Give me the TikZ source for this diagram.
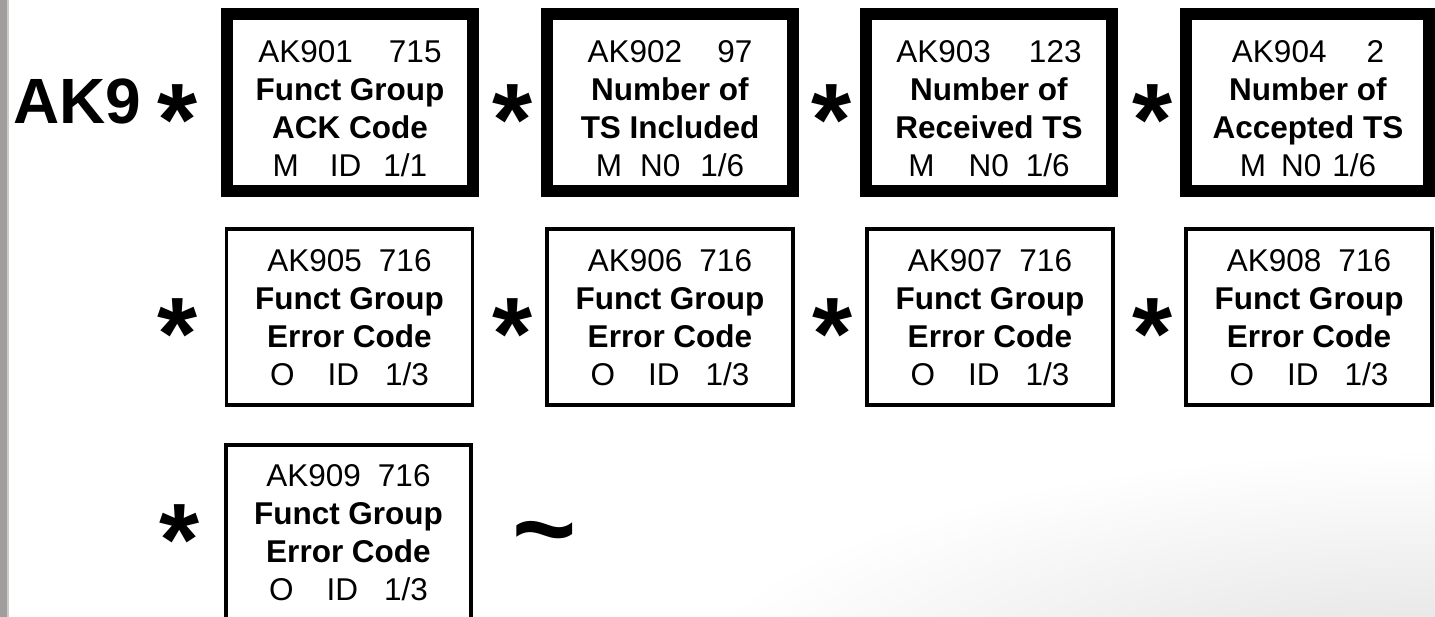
\documentclass[tikz,border=0pt]{standalone}
\usepackage{fontspec}
\setmainfont{Liberation Sans}
\definecolor{stripgray}{RGB}{160,158,156}
\begin{document}
\begin{tikzpicture}[x=1pt,y=-1pt,
  bigbox/.style={draw=black, line width=12pt, rectangle, inner sep=0pt, minimum width=246pt, minimum height=177pt},
  smallbox/.style={draw=black, line width=3.5pt, rectangle, inner sep=0pt, minimum width=246pt, minimum height=176pt},
  boxtext/.style={align=center, anchor=north, inner sep=0pt, font=\fontsize{31.5}{38}\selectfont},
  starmark/.style={anchor=base, inner sep=0pt, font=\fontsize{103}{103}\selectfont\bfseries},
  tildemark/.style={anchor=base, inner sep=0pt, font=\fontsize{110}{110}\selectfont\bfseries},
  segname/.style={anchor=base west, inner sep=0pt, font=\fontsize{64}{64}\selectfont\bfseries}]
\useasboundingbox (0,0) rectangle (1435,617);
\clip (0,0) rectangle (1435,617);
\fill[white] (0,0) rectangle (1435,617);
\shade[inner color=black!13, outer color=white] (1435,700) ellipse [x radius=760pt, y radius=250pt];
\fill[stripgray] (0,0) rectangle (7,617);
\fill[black!20] (7,0) rectangle (8.5,617);

% segment id
\node[segname] (ak9) at (13,124) {AK9};

% row 1
\node[starmark] (s1) at (178,156) {*};
\node[bigbox] (b1) at (350,102.5) {};
\node[boxtext] (t1) at (350,40) {AK901\hspace{36pt}715\\\textbf{Funct Group}\\\textbf{ACK Code}\\M\hspace{31pt}ID\hspace{22pt}1/1};
\node[starmark] (s2) at (513,156) {*};
\node[bigbox] (b2) at (670,102.5) {};
\node[boxtext] (t2) at (670,40) {AK902\hspace{35pt}97\\\textbf{Number of}\\\textbf{TS Included}\\M\hspace{18pt}N0\hspace{20pt}1/6};
\node[starmark] (s3) at (832,156) {*};
\node[bigbox] (b3) at (989,102.5) {};
\node[boxtext] (t3) at (989,40) {AK903\hspace{38pt}123\\\textbf{Number of}\\\textbf{Received TS}\\M\hspace{34pt}N0\hspace{17pt}1/6};
\node[starmark] (s4) at (1153,156) {*};
\node[bigbox, minimum width=243pt] (b4) at (1307.5,102.5) {};
\node[boxtext] (t4) at (1308,40) {AK904\hspace{40pt}2\\\textbf{Number of}\\\textbf{Accepted TS}\\M\hspace{15pt}N0\hspace{11pt}1/6};

% row 2
\node[starmark] (s5) at (178,370) {*};
\node[smallbox] (b5) at (349.5,317) {};
\node[boxtext] (t5) at (349.5,249.5) {AK905\hspace{17pt}716\\\textbf{Funct Group}\\\textbf{Error Code}\\O\hspace{33pt}ID\hspace{26pt}1/3};
\node[starmark] (s6) at (513,370) {*};
\node[smallbox] (b6) at (670,317) {};
\node[boxtext] (t6) at (670,249.5) {AK906\hspace{17pt}716\\\textbf{Funct Group}\\\textbf{Error Code}\\O\hspace{33pt}ID\hspace{26pt}1/3};
\node[starmark] (s7) at (833,370) {*};
\node[smallbox] (b7) at (990,317) {};
\node[boxtext] (t7) at (990,249.5) {AK907\hspace{17pt}716\\\textbf{Funct Group}\\\textbf{Error Code}\\O\hspace{33pt}ID\hspace{26pt}1/3};
\node[starmark] (s8) at (1153,370) {*};
\node[smallbox] (b8) at (1309,317) {};
\node[boxtext] (t8) at (1309,249.5) {AK908\hspace{17pt}716\\\textbf{Funct Group}\\\textbf{Error Code}\\O\hspace{33pt}ID\hspace{26pt}1/3};

% row 3
\node[starmark] (s9) at (180,575) {*};
\node[smallbox, minimum width=245pt] (b9) at (348.5,533) {};
\node[boxtext] (t9) at (348.5,464.5) {AK909\hspace{17pt}716\\\textbf{Funct Group}\\\textbf{Error Code}\\O\hspace{33pt}ID\hspace{26pt}1/3};
\node[tildemark] (end) at (545,566) {\char`\~};
\end{tikzpicture}
\end{document}
